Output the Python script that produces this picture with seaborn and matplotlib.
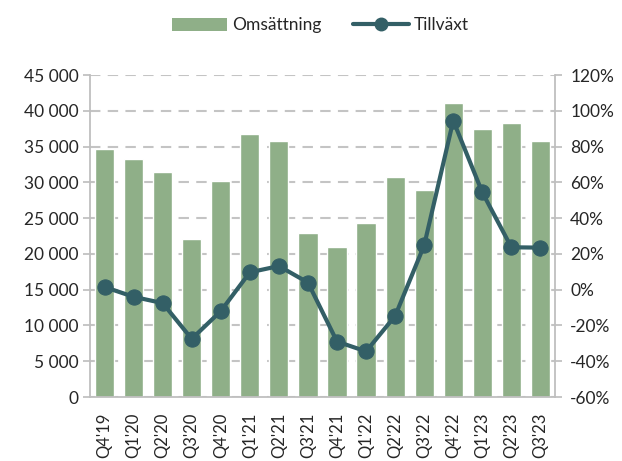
import matplotlib
matplotlib.use("Agg")
import matplotlib.pyplot as plt
import seaborn as sns
import pandas as pd
from matplotlib.ticker import FuncFormatter, MultipleLocator
from matplotlib.lines import Line2D
from matplotlib.patches import Patch

quarters = ["Q4'19", "Q1'20", "Q2'20", "Q3'20", "Q4'20", "Q1'21", "Q2'21", "Q3'21",
            "Q4'21", "Q1'22", "Q2'22", "Q3'22", "Q4'22", "Q1'23", "Q2'23", "Q3'23"]
revenue = [34700, 33200, 31400, 22100, 30150, 36800, 35750, 22950,
           21000, 24250, 30700, 28900, 41100, 37500, 38250, 35750]
growth = [1.5, -4.0, -7.5, -27.5, -12.0, 9.7, 13.2, 4.0,
          -29.0, -34.5, -14.7, 24.8, 94.5, 54.4, 23.7, 23.5]

bar_color = "#8FAF88"
line_color = "#335F66"
grid_color = "#C4C4C4"
text_color = "#262626"

sns.set_theme(style="white")
plt.rcParams['font.family'] = ['Lato', 'DejaVu Sans']

df = pd.DataFrame({"q": quarters, "rev": revenue, "g": growth})

fig = plt.figure(figsize=(6.22, 4.61), dpi=100)
ax = fig.add_axes([0.1447, 0.1388, 0.7475, 0.6985])

sns.barplot(data=df, x="q", y="rev", color=bar_color, width=0.66, ax=ax,
            saturation=1, zorder=2)
ax.set_ylim(0, 45000)
ax.yaxis.set_major_locator(MultipleLocator(5000))
ax.yaxis.set_major_formatter(FuncFormatter(lambda v, p: f"{int(v):,}".replace(",", " ")))
ax.grid(axis="y", color=grid_color, linestyle=(0, (5, 3.5)), linewidth=1.5, zorder=0)
ax.set_axisbelow(True)
ax.set_xlabel("")
ax.set_ylabel("")
ax.set_xlim(-0.5, len(quarters) - 0.5)

ax2 = ax.twinx()
sns.lineplot(x=range(len(quarters)), y=df["g"], ax=ax2, color=line_color, linewidth=3,
             marker="o", markersize=11, markeredgecolor=line_color, zorder=3)
ax2.set_ylim(-60, 120)
ax2.yaxis.set_major_locator(MultipleLocator(20))
ax2.yaxis.set_major_formatter(FuncFormatter(lambda v, p: f"{int(round(v))}%"))
ax2.set_ylabel("")
ax2.set_xlim(-0.5, len(quarters) - 0.5)

for a in (ax, ax2):
    for s in a.spines.values():
        s.set_visible(False)
ax.spines["left"].set_visible(True)
ax.spines["bottom"].set_visible(True)
ax2.spines["right"].set_visible(True)
for s in (ax.spines["left"], ax.spines["bottom"], ax2.spines["right"]):
    s.set_color("#BFBFBF")
    s.set_linewidth(1.3)

ax.tick_params(axis="y", left=True, length=5, color="#BFBFBF", labelsize=12.5,
               labelcolor=text_color, pad=3)
ax.tick_params(axis="x", bottom=False, labelsize=12, labelcolor=text_color,
               labelrotation=90, pad=5)
ax2.tick_params(axis="y", right=True, length=5, color="#BFBFBF", labelsize=12.5,
                labelcolor=text_color, pad=6)

handles = [Patch(facecolor=bar_color, edgecolor="none", label="Omsättning"),
           Line2D([0], [0], color=line_color, linewidth=3, marker="o", markersize=9,
                  label="Tillväxt")]
fig.legend(handles=handles, loc="center", bbox_to_anchor=(0.515, 0.945), ncol=2,
           frameon=False, fontsize=12.5, handlelength=3.2, handleheight=0.8,
           columnspacing=1.8, handletextpad=0.3, labelcolor=text_color)

fig.savefig("out.png", dpi=100)
